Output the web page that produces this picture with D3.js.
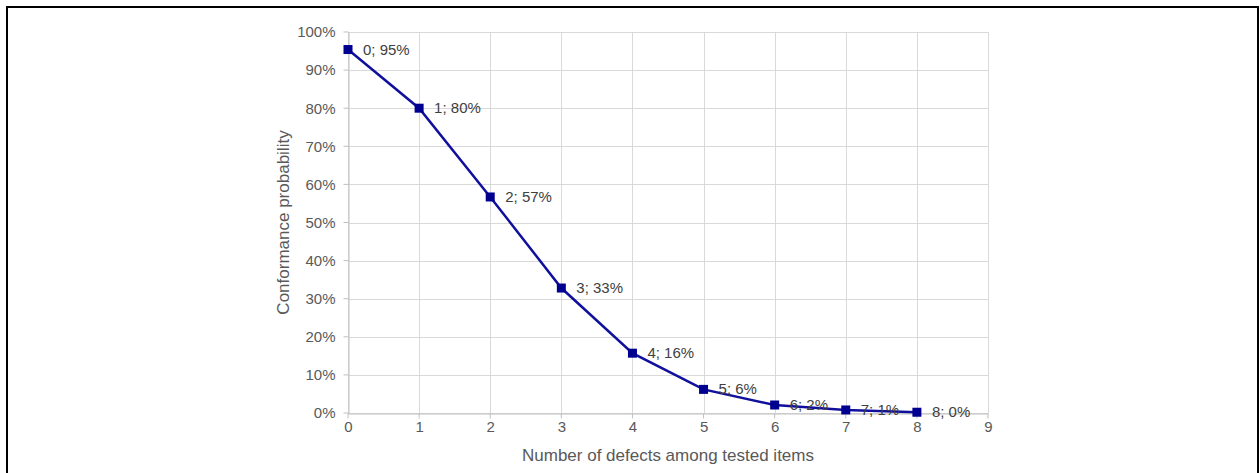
<!DOCTYPE html>
<html>
<head>
<meta charset="utf-8">
<script src="https://cdn.jsdelivr.net/npm/d3@7"></script>
<style>
  body { margin: 0; background: #fff; }
  svg { display: block; font-family: "Liberation Sans", Arial, sans-serif; }
</style>
</head>
<body>
<svg id="chart" width="1260" height="473"></svg>
<script>
// data
var defects = [0, 1, 2, 3, 4, 5, 6, 7, 8];
var probability = [0.954, 0.80, 0.567, 0.328, 0.157, 0.062, 0.021, 0.008, 0.002];
var xTicks = [0, 1, 2, 3, 4, 5, 6, 7, 8, 9];
var yTicks = [0, 0.1, 0.2, 0.3, 0.4, 0.5, 0.6, 0.7, 0.8, 0.9, 1.0];

var svg = d3.select("#chart");

// outer frame
svg.append("path")
  .attr("d", "M7,473 L7,7 L1258,7 L1258,473")
  .attr("fill", "none")
  .attr("stroke", "#000")
  .attr("stroke-width", 2);

var x = d3.scaleLinear().domain([0, 9]).range([348, 988]);
var y = d3.scaleLinear().domain([0, 1]).range([413, 32]);

var grid = svg.append("g");
grid.selectAll(".vg").data(xTicks).enter().append("line")
  .attr("x1", d => Math.round(x(d)) + 0.5).attr("x2", d => Math.round(x(d)) + 0.5)
  .attr("y1", y(1)).attr("y2", y(0))
  .attr("stroke", "#d9d9d9").attr("stroke-width", 1);
grid.selectAll(".hg").data(yTicks).enter().append("line")
  .attr("x1", x(0)).attr("x2", x(9))
  .attr("y1", d => Math.round(y(d)) + 0.5).attr("y2", d => Math.round(y(d)) + 0.5)
  .attr("stroke", "#d9d9d9").attr("stroke-width", 1);

// axes
var xAxis = svg.append("g")
  .attr("transform", "translate(0," + (Math.round(y(0)) + 0.5) + ")")
  .call(d3.axisBottom(x).tickValues(xTicks).tickFormat(d3.format("d")).tickSizeInner(5).tickSizeOuter(0).tickPadding(3));
var yAxis = svg.append("g")
  .attr("transform", "translate(" + (Math.round(x(0)) + 0.5) + ",0)")
  .call(d3.axisLeft(y).tickValues(yTicks).tickFormat(d3.format(".0%")).tickSizeInner(5).tickSizeOuter(0).tickPadding(8));

[xAxis, yAxis].forEach(function(a) {
  a.select(".domain").attr("stroke", "#bfbfbf");
  a.selectAll(".tick line").attr("stroke", "#bfbfbf");
  a.selectAll(".tick text").attr("fill", "#595959").style("font-size", "15px")
    .style("font-family", "'Liberation Sans', Arial, sans-serif");
});
xAxis.selectAll(".tick line").attr("transform", "translate(-0.5,0)");
yAxis.selectAll(".tick line").attr("transform", "translate(0,-0.5)");

// axis titles
svg.append("text")
  .attr("x", (x(0) + x(9)) / 2).attr("y", 461)
  .attr("text-anchor", "middle")
  .attr("fill", "#595959").style("font-size", "17px")
  .text("Number of defects among tested items");
svg.append("text")
  .attr("transform", "translate(289," + (y(0) + y(1)) / 2 + ") rotate(-90)")
  .attr("text-anchor", "middle")
  .attr("fill", "#595959").style("font-size", "17px")
  .text("Conformance probability");

// line
var pts = defects.map((d, i) => [d, probability[i]]);
svg.append("path")
  .datum(pts)
  .attr("fill", "none")
  .attr("stroke", "#10109c")
  .attr("stroke-width", 2.5)
  .attr("d", d3.line().x(d => x(d[0])).y(d => y(d[1])));

svg.selectAll(".mk").data(pts).enter().append("rect")
  .attr("x", d => x(d[0]) - 4.5).attr("y", d => y(d[1]) - 4.5)
  .attr("width", 9).attr("height", 9)
  .attr("fill", "#000090");

svg.selectAll(".lbl").data(pts).enter().append("text")
  .attr("x", d => x(d[0]) + 15).attr("y", d => y(d[1]) + 5)
  .attr("fill", "#404040").style("font-size", "15px")
  .text(d => d[0] + "; " + Math.round(d[1] * 100) + "%");
</script>
</body>
</html>
